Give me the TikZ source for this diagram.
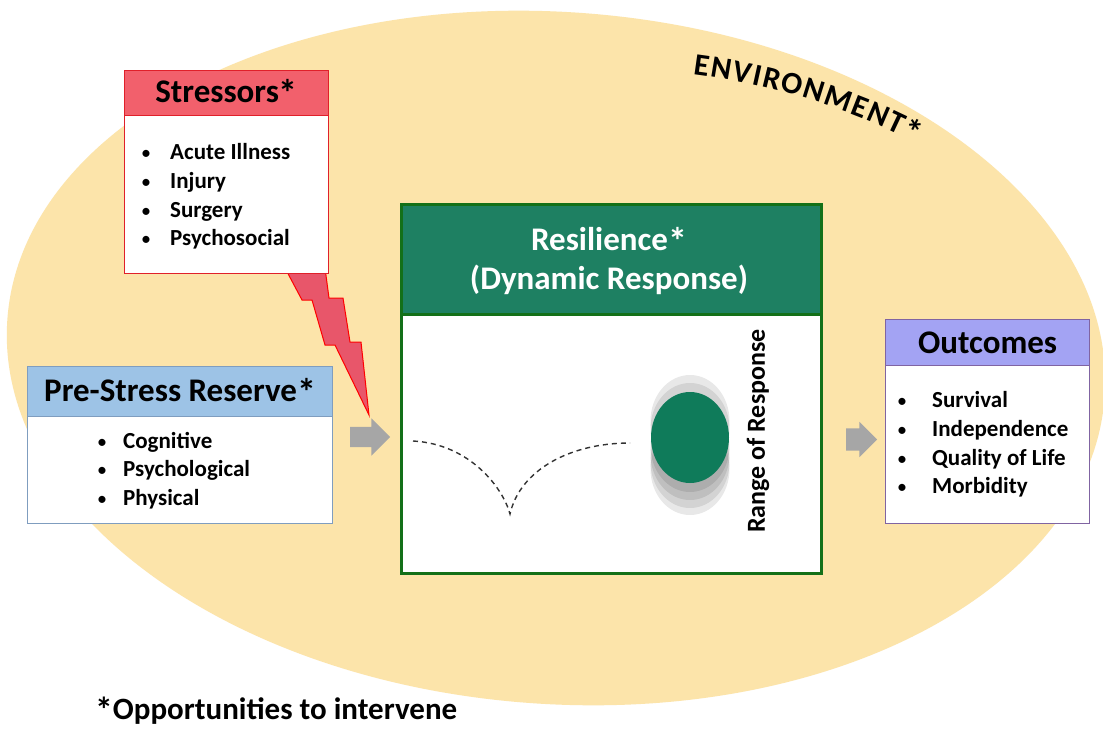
\documentclass[tikz,border=0pt]{standalone}
\usepackage{fontspec}
\setmainfont{Carlito}
\usetikzlibrary{decorations.markings,shapes.arrows}
\definecolor{envfill}{HTML}{FCE4AA}
\definecolor{strhdr}{HTML}{F2606C}
\definecolor{strbd}{HTML}{E0202A}
\definecolor{boltfill}{HTML}{E8566A}
\definecolor{prehdr}{HTML}{9DC3E6}
\definecolor{prebd}{HTML}{7F9DBF}
\definecolor{reshdr}{HTML}{1E8062}
\definecolor{resbd}{HTML}{137018}
\definecolor{resdot}{HTML}{0F7B5A}
\definecolor{outhdr}{HTML}{A3A3F3}
\definecolor{outbd}{HTML}{8064A2}
\definecolor{arrgray}{HTML}{A6A6A6}
\newcommand{\bul}{\makebox[12pt][c]{\fontsize{20}{20}\selectfont\mdseries •}}
\newcommand{\astr}{\raisebox{-0.12em}{\scalebox{1.15}{*}}}
\tikzset{
  hdr/.style={draw, rectangle, anchor=north west, inner sep=0pt, line width=1.2pt,
    font=\fontsize{33}{39}\selectfont\bfseries, align=center},
  bodybox/.style={draw, fill=white, rectangle, anchor=north west, inner sep=0pt, line width=1.2pt},
  itemlist/.style={anchor=west, inner sep=0pt, font=\fontsize{23}{28.6}\selectfont\bfseries},
  garrow/.style={single arrow, fill=arrgray, draw=none, inner xsep=0pt,
    shape border rotate=0},
  greyell/.style={fill=black, fill opacity=0.09},
  envletter/.style={transform shape, anchor=base, inner sep=0pt,
    font=\fontsize{31}{31}\selectfont\bfseries}
}
\begin{document}
\begin{tikzpicture}[x=1pt,y=-1pt]
\useasboundingbox (0,0) rectangle (1103,733);
\fill[white] (0,0) rectangle (1103,733);
\begin{scope}
\clip (0,0) rectangle (1103,733);
\fill[envfill, rotate around={-4:(556,358)}] (556,358) ellipse [x radius=550, y radius=346];
\end{scope}

% environment label
\path[decoration={markings,
  mark=at position 0.0360 with {\node[envletter]{E};},
  mark=at position 0.1189 with {\node[envletter]{N};},
  mark=at position 0.2085 with {\node[envletter]{V};},
  mark=at position 0.2729 with {\node[envletter]{I};},
  mark=at position 0.3354 with {\node[envletter]{R};},
  mark=at position 0.4242 with {\node[envletter]{O};},
  mark=at position 0.5193 with {\node[envletter]{N};},
  mark=at position 0.6271 with {\node[envletter]{M};},
  mark=at position 0.7238 with {\node[envletter]{E};},
  mark=at position 0.8068 with {\node[envletter]{N};},
  mark=at position 0.8903 with {\node[envletter]{T};},
  mark=at position 0.9634 with {\node[envletter]{\astr};}}, decorate]
  (692,74) .. controls (770,84) and (850,108) .. (916,143);

% lightning bolt
\filldraw[fill=boltfill, draw=red, line width=1pt, line join=miter]
  (285,268) -- (302,300) -- (312,300) -- (325,345) -- (335,345) -- (369,415)
  -- (361,342) -- (350,342) -- (343,298) -- (329,298) -- (325,268) -- cycle;

% Stressors
\node[bodybox, draw=strbd, minimum width=204pt, minimum height=158pt] (strB) at (124,115) {};
\node[hdr, fill=strhdr, draw=strbd, minimum width=204pt, minimum height=45pt] (strH) at (124,70) {Stressors\astr};
\node[itemlist] (strL) at (140,197) {\begin{tabular}{@{}l@{\hspace{18pt}}l@{}}
\bul&Acute Illness\\ \bul&Injury\\ \bul&Surgery\\ \bul&Psychosocial\end{tabular}};

% Pre-Stress Reserve
\node[bodybox, draw=prebd, minimum width=305pt, minimum height=107pt] (preB) at (27,416) {};
\node[hdr, fill=prehdr, draw=prebd, minimum width=305pt, minimum height=50pt] (preH) at (27,366) {Pre-Stress Reserve\astr};
\node[itemlist] (preL) at (96,471) {\begin{tabular}{@{}l@{\hspace{15pt}}l@{}}
\bul&Cognitive\\ \bul&Psychological\\ \bul&Physical\end{tabular}};

% Resilience
\node[bodybox, draw=resbd, line width=2.5pt, minimum width=420pt, minimum height=369pt] (resB) at (400,203) {};
\node[hdr, fill=reshdr, draw=resbd, line width=2.5pt, minimum width=420pt, minimum height=110pt] (resH) at (400,203) {};
\node[inner sep=0pt, text=white, align=center, font=\fontsize{33}{39}\selectfont\bfseries] (resT) at (609,261) {Resilience\astr\\(Dynamic Response)};

% response curve
\coordinate (c0) at (413,441);
\coordinate (c1) at (510,514);
\coordinate (c2) at (630,443);
\draw[black!80, line width=1.4pt, dash pattern=on 5pt off 4pt]
  (c0) .. controls (470,444) and (503,488) .. (c1)
  .. controls (520,470) and (570,443) .. (c2);

% range of response ellipses
\foreach \cy in {421,429,446,454,462,469}
  \fill[greyell] (690,\cy) ellipse [x radius=39.5, y radius=46];
\fill[resdot] (690,437.5) ellipse [x radius=39, y radius=45.5];
\node[rotate=90, inner sep=0pt, font=\fontsize{26}{26}\selectfont\bfseries] (range) at (758,431) {Range of Response};

% Outcomes
\node[bodybox, draw=outbd, minimum width=204pt, minimum height=158pt] (outB) at (885,365) {};
\node[hdr, fill=outhdr, draw=outbd, minimum width=204pt, minimum height=46pt] (outH) at (885,319) {Outcomes};
\node[itemlist] (outL) at (896,445) {\begin{tabular}{@{}l@{\hspace{24pt}}l@{}}
\bul&Survival\\ \bul&Independence\\ \bul&Quality of Life\\ \bul&Morbidity\end{tabular}};

% grey block arrows
\node[garrow, inner ysep=10pt, single arrow head extend=8.5pt, minimum height=40pt] (a1) at (365,437) {};
\node[garrow, inner ysep=11pt, single arrow head extend=6.5pt, minimum height=31pt] (a2) at (856,439.5) {};

% footnote
\node[anchor=base west, inner sep=0pt, font=\fontsize{31}{31}\selectfont\bfseries] (note) at (95,719) {\astr Opportunities to intervene};
\end{tikzpicture}
\end{document}
